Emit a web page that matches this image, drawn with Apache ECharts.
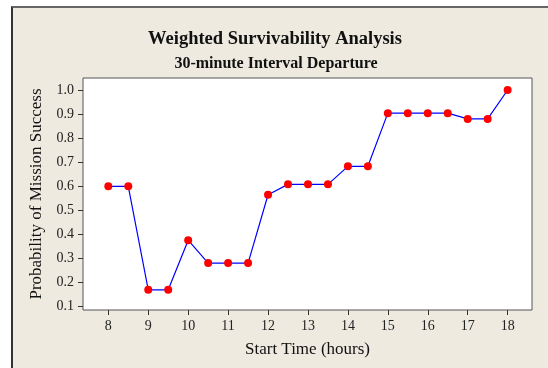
<!DOCTYPE html>
<html>
<head>
<meta charset="utf-8">
<script src="https://cdn.jsdelivr.net/npm/echarts@6/dist/echarts.min.js"></script>
<style>
  html, body { margin: 0; padding: 0; background: #fff; }
  #frame {
    position: absolute; left: 11px; top: 6px; right: 0; bottom: 0;
    background: #eeeae0;
    border-left: 2px solid #333; border-top: 2px solid #666;
  }
  #chart { position: absolute; left: 0; top: 0; width: 548px; height: 368px; }
</style>
</head>
<body>
<div id="frame"></div>
<div id="chart"></div>
<script>
// start times (hours) and weighted survivability
var startTimes = [8, 8.5, 9, 9.5, 10, 10.5, 11, 11.5, 12, 12.5, 13, 13.5, 14, 14.5, 15, 15.5, 16, 16.5, 17, 17.5, 18];
var probSuccess = [0.60, 0.60, 0.17, 0.17, 0.376, 0.281, 0.281, 0.281, 0.565, 0.608, 0.608, 0.608, 0.683, 0.683, 0.904, 0.904, 0.904, 0.904, 0.88, 0.88, 1.0];
var xTicks = [8, 9, 10, 11, 12, 13, 14, 15, 16, 17, 18];
var yTicks = [0.1, 0.2, 0.3, 0.4, 0.5, 0.6, 0.7, 0.8, 0.9, 1.0];

var serif = '"Liberation Serif", "Times New Roman", serif';

var chart = echarts.init(document.getElementById('chart'));
var option = {
    backgroundColor: 'transparent',
    animation: false,
    title: [{
        text: 'Weighted Survivability Analysis',
        left: 270, top: 25, textAlign: 'center',
        textStyle: { fontFamily: serif, fontWeight: 'bold', fontSize: 18.5, color: '#111' }
    }, {
        text: '30-minute Interval Departure',
        left: 271, top: 51, textAlign: 'center',
        textStyle: { fontFamily: serif, fontWeight: 'bold', fontSize: 16, color: '#111' }
    }],
    grid: {
        left: 83, top: 78, width: 449, height: 232,
        show: true, backgroundColor: '#fff', borderColor: '#555', borderWidth: 1
    },
    xAxis: {
        type: 'value',
        min: 7.366, max: 18.61,
        name: 'Start Time (hours)',
        nameLocation: 'middle', nameGap: 31,
        nameTextStyle: { fontFamily: serif, fontSize: 17, color: '#111' },
        axisLine: { show: false },
        splitLine: { show: false },
        axisTick: { show: true, length: 5, customValues: xTicks, lineStyle: { color: '#333' } },
        axisLabel: { customValues: xTicks, margin: 9, fontFamily: serif, fontSize: 14, color: '#222' }
    },
    yAxis: {
        type: 'value',
        min: 0.086, max: 1.05,
        name: 'Probability of Mission Success',
        nameLocation: 'middle', nameGap: 38,
        nameTextStyle: { fontFamily: serif, fontSize: 17, color: '#111' },
        axisLine: { show: false },
        splitLine: { show: false },
        axisTick: { show: true, length: 5, customValues: yTicks, lineStyle: { color: '#333' } },
        axisLabel: {
            customValues: yTicks, margin: 9, fontFamily: serif, fontSize: 14, color: '#222',
            formatter: function (v) { return v.toFixed(1); }
        }
    },
    series: [{
        type: 'line',
        data: startTimes.map(function (t, i) { return [t, probSuccess[i]]; }),
        symbol: 'circle', symbolSize: 8,
        itemStyle: { color: '#ff0000' },
        lineStyle: { color: '#0000ff', width: 1.2 }
    }]
};
chart.setOption(option);
</script>
</body>
</html>
